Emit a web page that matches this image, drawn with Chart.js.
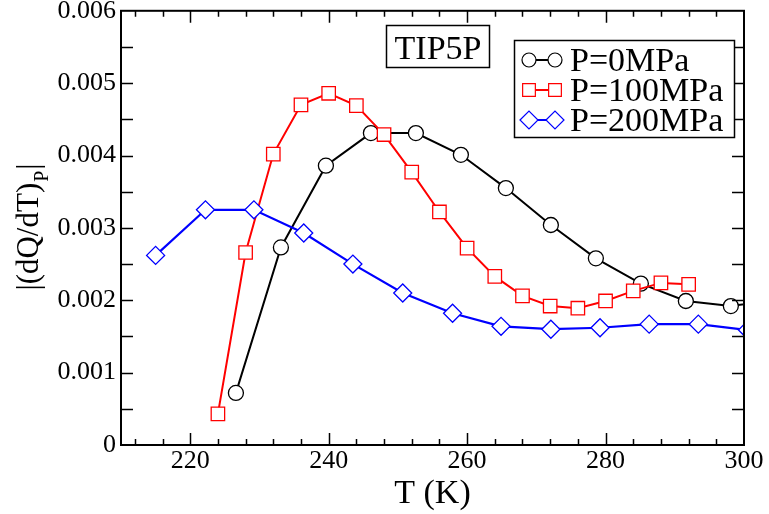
<!DOCTYPE html>
<html>
<head>
<meta charset="utf-8">
<title>TIP5P |(dQ/dT)P|</title>
<script src="https://cdn.jsdelivr.net/npm/chart.js@4.4.0/dist/chart.umd.min.js"></script>
<style>
  html, body { margin: 0; padding: 0; background: #fff; }
  #wrap { width: 769px; height: 514px; }
</style>
</head>
<body>
<div id="wrap"><canvas id="chart" width="769" height="514"></canvas></div>
<script>
// data
const tempP0 = [226.6, 233.1, 239.6, 246.1, 252.6, 259.1, 265.6, 272.1, 278.6, 285.1, 291.6, 298.1, 304.6];
const dqdtP0 = [0.00072, 0.00273, 0.00386, 0.00431, 0.00431, 0.00401, 0.00355, 0.00304, 0.00258, 0.00223, 0.00199, 0.00192, 0.00200];

const tempP100 = [224, 228, 232, 236, 240, 244, 248, 252, 256, 260, 264, 268, 272, 276, 280, 284, 288, 292];
const dqdtP100 = [0.00043, 0.00266, 0.00402, 0.00470, 0.00486, 0.00469, 0.00429, 0.00377, 0.00322, 0.00272, 0.00233, 0.00206, 0.00192, 0.00189, 0.00199, 0.00213, 0.00224, 0.00222];

const tempP200 = [215.0, 222.2, 229.2, 236.4, 243.5, 250.7, 257.9, 264.9, 272.1, 279.2, 286.3, 293.4, 300.5];
const dqdtP200 = [0.00262, 0.00325, 0.00325, 0.00293, 0.00250, 0.00210, 0.00182, 0.00164, 0.00160, 0.00162, 0.00167, 0.00167, 0.00159];

const seriesLabels = ['P=0MPa', 'P=100MPa', 'P=200MPa'];
const xTicks = [220, 240, 260, 280, 300];
const yTicks = [0, 0.001, 0.002, 0.003, 0.004, 0.005, 0.006];
const boxLabel = 'TIP5P';

const FONT = '"Liberation Serif", "Times New Roman", Times, serif';

function toPoints(xs, ys) {
  return xs.map((x, i) => ({ x: x, y: ys[i] }));
}

// small marker drawer for the legend (same shapes as chart points)
function drawMarker(ctx, style, x, y, r) {
  ctx.beginPath();
  if (style === 'circle') {
    ctx.arc(x, y, r, 0, Math.PI * 2);
  } else if (style === 'rect') {
    const s = r * Math.SQRT1_2;
    ctx.rect(x - s, y - s, 2 * s, 2 * s);
  } else {
    ctx.moveTo(x - r, y); ctx.lineTo(x, y - r); ctx.lineTo(x + r, y); ctx.lineTo(x, y + r); ctx.closePath();
  }
  ctx.fill();
  ctx.stroke();
}

const decorPlugin = {
  id: 'decor',
  afterDraw(chart) {
    const { ctx, chartArea: a, scales: { x, y } } = chart;
    ctx.save();

    // frame
    ctx.strokeStyle = '#000';
    ctx.lineWidth = 2;
    ctx.strokeRect(a.left, a.top, a.right - a.left, a.bottom - a.top);

    // inward ticks on all four sides
    ctx.lineWidth = 1.5;
    ctx.beginPath();
    for (let v = 212; v < 300; v += 4) {
      const px = Math.round(x.getPixelForValue(v)) + 0.5;
      const len = (v % 20 === 0) ? 12 : 6;
      ctx.moveTo(px, a.bottom); ctx.lineTo(px, a.bottom - len);
      ctx.moveTo(px, a.top); ctx.lineTo(px, a.top + len);
    }
    for (let k = 1; k < 12; k++) {
      const py = Math.round(y.getPixelForValue(k * 0.0005)) + 0.5;
      ctx.moveTo(a.left, py); ctx.lineTo(a.left + 12, py);
      ctx.moveTo(a.right, py); ctx.lineTo(a.right - 12, py);
    }
    ctx.stroke();

    // y axis title with subscript
    ctx.fillStyle = '#000';
    ctx.translate(38, 228);
    ctx.rotate(-Math.PI / 2);
    ctx.textBaseline = 'alphabetic';
    ctx.textAlign = 'left';
    const main = '|(dQ/dT)', sub = 'P', end = '|';
    ctx.font = '31px ' + FONT;
    const w1 = ctx.measureText(main).width, w3 = ctx.measureText(end).width;
    ctx.font = '20px ' + FONT;
    const w2 = ctx.measureText(sub).width;
    const start = -(w1 + w2 + w3) / 2;
    ctx.font = '31px ' + FONT;
    ctx.fillText(main, start, 0);
    ctx.font = '20px ' + FONT;
    ctx.fillText(sub, start + w1 + 1, 10);
    ctx.font = '31px ' + FONT;
    ctx.fillText(end, start + w1 + w2 + 2, 0);
    ctx.setTransform(1, 0, 0, 1, 0, 0);

    // TIP5P label box
    ctx.lineWidth = 1.5;
    ctx.strokeRect(386.5, 25.5, 103, 42);
    ctx.font = '34px ' + FONT;
    ctx.textAlign = 'center';
    ctx.fillText(boxLabel, 438, 59);

    // legend box
    ctx.fillStyle = '#fff';
    ctx.fillRect(514.5, 40.5, 220, 97);
    ctx.strokeStyle = '#000';
    ctx.strokeRect(514.5, 40.5, 220, 97);
    ctx.textAlign = 'left';
    chart.data.datasets.forEach((ds, i) => {
      const cy = 60 + i * 30;
      ctx.strokeStyle = ds.borderColor;
      ctx.lineWidth = 2;
      ctx.beginPath();
      ctx.moveTo(529, cy); ctx.lineTo(555, cy);
      ctx.stroke();
      ctx.fillStyle = '#fff';
      ctx.lineWidth = 1.2;
      const r = ds.pointStyle === 'circle' ? 7 : 9;
      drawMarker(ctx, ds.pointStyle, 529, cy, r);
      drawMarker(ctx, ds.pointStyle, 555, cy, r);
      ctx.fillStyle = '#000';
      ctx.font = '34px ' + FONT;
      ctx.fillText(ds.label, 570, cy + 11);
    });

    ctx.restore();
  }
};

const ctx = document.getElementById('chart').getContext('2d');
new Chart(ctx, {
  type: 'line',
  data: {
    datasets: [
      {
        label: seriesLabels[0],
        data: toPoints(tempP0, dqdtP0),
        borderColor: '#000000',
        borderWidth: 2,
        pointStyle: 'circle',
        pointRadius: 7.5,
        pointBorderWidth: 1.3,
        pointBackgroundColor: '#ffffff',
        pointBorderColor: '#000000',
        order: 3
      },
      {
        label: seriesLabels[1],
        data: toPoints(tempP100, dqdtP100),
        borderColor: '#ff0000',
        borderWidth: 2,
        pointStyle: 'rect',
        pointRadius: 9.5,
        pointBorderWidth: 1.3,
        pointBackgroundColor: '#ffffff',
        pointBorderColor: '#ff0000',
        order: 2
      },
      {
        label: seriesLabels[2],
        data: toPoints(tempP200, dqdtP200),
        borderColor: '#0000ff',
        borderWidth: 2.2,
        pointStyle: 'rectRot',
        pointRadius: 9,
        pointBorderWidth: 1.3,
        pointBackgroundColor: '#ffffff',
        pointBorderColor: '#0000ff',
        order: 1
      }
    ]
  },
  options: {
    responsive: false,
    animation: false,
    devicePixelRatio: 1,
    layout: { padding: { top: 10, right: 25, left: 0, bottom: 0 } },
    plugins: {
      legend: { display: false },
      tooltip: { enabled: false }
    },
    scales: {
      x: {
        type: 'linear',
        min: 210,
        max: 300,
        afterBuildTicks: (scale) => { scale.ticks = xTicks.map(v => ({ value: v })); },
        afterFit: (scale) => { scale.height = 69; scale.paddingLeft = 0; scale.paddingRight = 0; },
        grid: { display: false, drawTicks: false },
        border: { display: false },
        ticks: {
          color: '#000',
          font: { family: FONT, size: 26 },
          padding: 1,
          maxRotation: 0,
          autoSkip: false
        },
        title: {
          display: true,
          text: 'T (K)',
          color: '#000',
          font: { family: FONT, size: 34 },
          padding: { top: 0, bottom: 0 }
        }
      },
      y: {
        min: 0,
        max: 0.006,
        afterBuildTicks: (scale) => { scale.ticks = yTicks.map(v => ({ value: v })); },
        afterFit: (scale) => { scale.width = 121; scale.paddingTop = 0; scale.paddingBottom = 0; },
        grid: { display: false, drawTicks: false },
        border: { display: false },
        ticks: {
          color: '#000',
          font: { family: FONT, size: 26 },
          padding: 5,
          autoSkip: false,
          callback: (v) => (v === 0 ? '0' : v.toFixed(3))
        }
      }
    }
  },
  plugins: [decorPlugin]
});
</script>
</body>
</html>
